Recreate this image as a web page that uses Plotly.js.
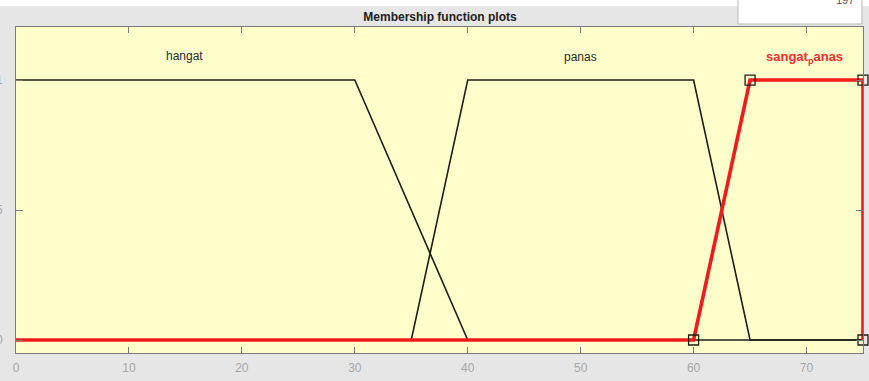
<!DOCTYPE html>
<html>
<head>
<meta charset="utf-8">
<script src="https://cdn.plot.ly/plotly-3.0.1.min.js"></script>
<style>
  html, body { margin: 0; padding: 0; background: #e6e6e6; }
  #chart { width: 869px; height: 381px; }
</style>
</head>
<body>
<div id="chart"></div>
<script>
// Input variable range and membership function vertices (trapezoids over 0..75)
const xRange = [0, 75];
const xTicks = [0, 10, 20, 30, 40, 50, 60, 70];
const yTicks = [0, 0.5, 1];
const yTickText = ['0', '0.5', '1'];

const mfNames = ['hangat', 'panas', 'sangat_panas'];
const hangatX = [0, 30, 40, 75];
const hangatY = [1, 1, 0, 0];
const panasX = [0, 35, 40, 60, 65, 75];
const panasY = [0, 0, 1, 1, 0, 0];
const sangatX = [0, 60, 65, 75, 75];
const sangatY = [0, 0, 1, 1, 0];
// Editable vertices of the selected function
const handleX = [60, 65, 75, 75];
const handleY = [0, 1, 1, 0];
// Label anchor points for each function name
const labelX = [14.9, 50, 69.8];
const labelY = [1.093, 1.09, 1.085];

const ink = '#1e1e14';
const red = '#f21a1a';
const face = 'Liberation Sans, Arial, sans-serif';

const traces = [
  { x: hangatX, y: hangatY, mode: 'lines', line: { color: ink, width: 1.6 }, hoverinfo: 'skip' },
  { x: panasX, y: panasY, mode: 'lines', line: { color: ink, width: 1.6 }, hoverinfo: 'skip' },
  { x: sangatX, y: sangatY, mode: 'lines', line: { color: red, width: 3.6 }, hoverinfo: 'skip' },
  { x: handleX, y: handleY, mode: 'markers', cliponaxis: false,
    marker: { symbol: 'square-open', size: 10, color: ink, line: { width: 1.3, color: ink } }, hoverinfo: 'skip' }
];

const annotations = [
  { x: labelX[0], y: labelY[0], text: mfNames[0], showarrow: false,
    font: { family: face, size: 12, color: '#2a2a2a' } },
  { x: labelX[1], y: labelY[1], text: mfNames[1], showarrow: false,
    font: { family: face, size: 12, color: '#2a2a2a' } },
  { x: labelX[2], y: labelY[2], text: '<b>sangat<sub>p</sub>anas</b>', showarrow: false,
    font: { family: face, size: 13, color: '#f03030' } },
  // value readout inside the white box at the top right
  { xref: 'paper', yref: 'paper', x: 0.992, y: 1.083, xanchor: 'right', yanchor: 'middle',
    text: '197', showarrow: false,
    font: { family: face, size: 11, color: '#555' } }
];

const shapes = [
  // white strip along the top of the window
  { type: 'rect', xref: 'paper', yref: 'paper', x0: -0.05, x1: 1.05, y0: 1.0644, y1: 1.1,
    fillcolor: '#ffffff', line: { width: 0 }, layer: 'below' },
  // white readout box
  { type: 'rect', xref: 'paper', yref: 'paper', x0: 0.8524, x1: 0.9988, y0: 1.0092, y1: 1.1,
    fillcolor: '#ffffff', line: { color: '#b8b8b8', width: 1 }, layer: 'above' }
];

const layout = {
  width: 869,
  height: 381,
  margin: { l: 16, r: 6, t: 27, b: 28, pad: 0 },
  paper_bgcolor: '#e6e6e6',
  plot_bgcolor: '#ffffcc',
  showlegend: false,
  title: {
    text: '<b>Membership function plots</b>',
    font: { family: face, size: 12, color: '#222' },
    x: 0.5006, xref: 'paper', xanchor: 'center',
    y: 0.955, yref: 'container', yanchor: 'middle'
  },
  xaxis: {
    range: xRange,
    tickvals: xTicks,
    ticks: 'inside', ticklen: 6, tickcolor: '#7a7a7a', tickwidth: 1,
    showline: true, linecolor: '#7a7a7a', linewidth: 1, mirror: 'ticks',
    showgrid: false, zeroline: false,
    tickfont: { family: face, size: 12, color: '#a6a6a6' },
    ticklabelstandoff: 4
  },
  yaxis: {
    range: [-0.05, 1.204],
    tickvals: yTicks, ticktext: yTickText,
    ticks: 'inside', ticklen: 7, tickcolor: '#7a7a7a', tickwidth: 1,
    showline: true, linecolor: '#7a7a7a', linewidth: 1, mirror: 'ticks',
    showgrid: false, zeroline: false,
    tickfont: { family: face, size: 12, color: '#a6a6a6' },
    ticklabelstandoff: 10
  },
  annotations: annotations,
  shapes: shapes
};

Plotly.newPlot('chart', traces, layout, { staticPlot: true, displayModeBar: false });
</script>
</body>
</html>
